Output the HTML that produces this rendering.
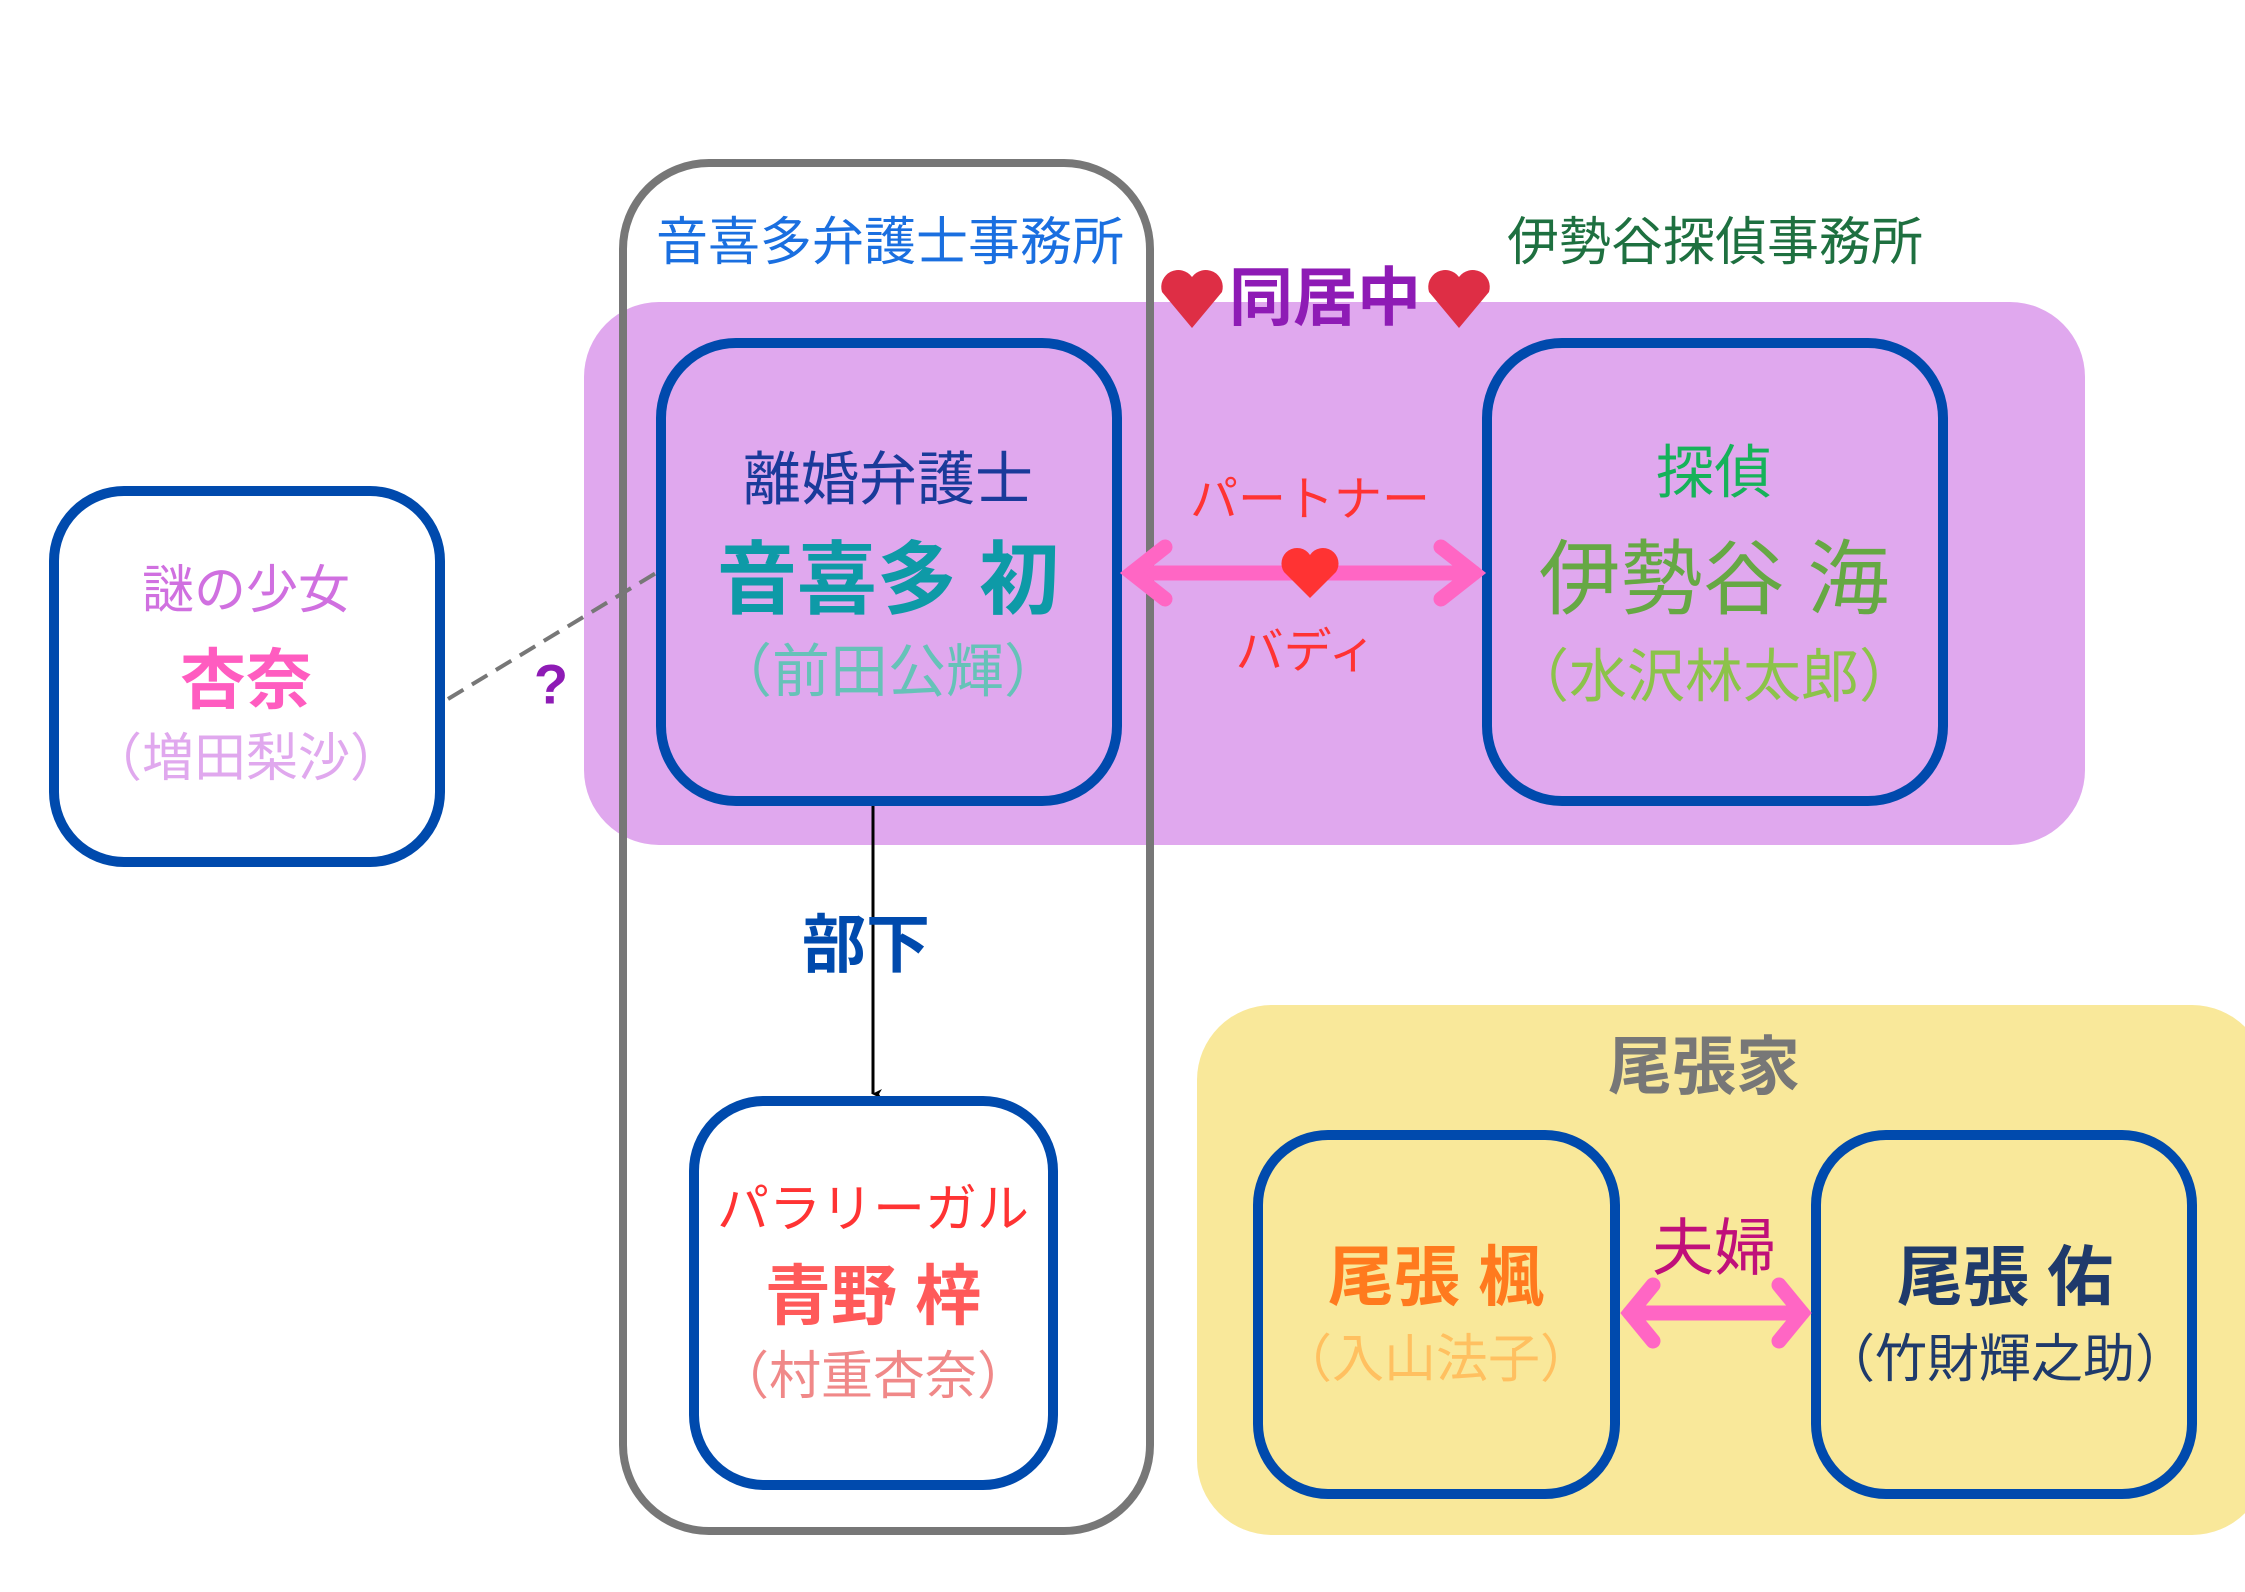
<!DOCTYPE html>
<html><head><meta charset="utf-8"><style>
html,body{margin:0;padding:0;background:#fff;}
svg text{font-family:"Liberation Sans","Noto Sans CJK JP",sans-serif;}
</style></head><body>
<svg width="2245" height="1587" viewBox="0 0 2245 1587" xmlns="http://www.w3.org/2000/svg">
<defs>
<marker id="ah" markerWidth="10" markerHeight="10" refX="5" refY="9" orient="auto" markerUnits="userSpaceOnUse">
<path d="M0,0 L5,10 L10,0 L5,3 Z" fill="#000"/>
</marker>
</defs>
<!-- backgrounds -->
<rect x="584" y="302" width="1501" height="543" rx="75" fill="#e0a8ee"/>
<rect x="1197" y="1005" width="1070" height="530" rx="75" fill="#f9e89a"/>
<!-- gray office box -->
<rect x="623" y="163" width="527" height="1368" rx="86" fill="none" stroke="#777" stroke-width="8"/>
<!-- dashed line -->
<line x1="448" y1="699" x2="656" y2="573" stroke="#777" stroke-width="4" stroke-dasharray="18,10"/>
<!-- vertical line -->
<line x1="873" y1="805" x2="873" y2="1094" stroke="#000" stroke-width="3" marker-end="url(#ah)"/>
<!-- nodes -->
<rect x="661" y="343" width="456" height="458" rx="75" fill="none" stroke="#004aad" stroke-width="10"/>
<rect x="1487" y="343" width="456" height="458" rx="75" fill="none" stroke="#004aad" stroke-width="10"/>
<rect x="54" y="491" width="386" height="371" rx="70" fill="#fff" stroke="#004aad" stroke-width="10"/>
<rect x="694" y="1101" width="359" height="384" rx="70" fill="#fff" stroke="#004aad" stroke-width="10"/>
<rect x="1258" y="1135" width="357" height="359" rx="70" fill="none" stroke="#004aad" stroke-width="10"/>
<rect x="1816" y="1135" width="376" height="359" rx="70" fill="none" stroke="#004aad" stroke-width="10"/>
<!-- partner arrow -->
<g stroke="#ff66c4" stroke-width="15" stroke-linecap="round" fill="none">
<line x1="1132" y1="573" x2="1474" y2="573"/>
<polyline points="1165,547 1132,573 1165,599"/>
<polyline points="1441,547 1474,573 1441,599"/>
</g>
<path d="M1310,598 L1284,572 A15,15 0 0 1 1310,555 A15,15 0 0 1 1336,572 Z" fill="#ff3333"/>
<!-- couple arrow -->
<g stroke="#ff66c4" stroke-width="15" stroke-linecap="round" fill="none">
<line x1="1630" y1="1313" x2="1802" y2="1313"/>
<polyline points="1653,1285 1630,1313 1653,1341"/>
<polyline points="1779,1285 1802,1313 1779,1341"/>
</g>
<!-- hearts for 同居中 -->
<path d="M1192,328 L1162,292 A17,17 0 0 1 1192,277 A17,17 0 0 1 1222,292 Z" fill="#de2e45"/>
<path d="M1459,328 L1429,292 A17,17 0 0 1 1459,277 A17,17 0 0 1 1489,292 Z" fill="#de2e45"/>
<g text-anchor="middle" dominant-baseline="central">
<text x="890" y="243" font-size="52" fill="#1a6fe0">音喜多弁護士事務所</text>
<text x="1715" y="243" font-size="52" fill="#1e7040">伊勢谷探偵事務所</text>
<text x="1325" y="298" font-size="64" font-weight="bold" fill="#8e1bb5">同居中</text>
<text x="888" y="480" font-size="58" fill="#1a3a9a">離婚弁護士</text>
<text x="888" y="580" font-size="80" font-weight="bold" fill="#0e9aa7">音喜多 初</text>
<text x="888" y="672" font-size="58" fill="#66c2b8">（前田公輝）</text>
<text x="1714" y="473" font-size="58" fill="#16b25a">探偵</text>
<text x="1714" y="580" font-size="82" fill="#66a844">伊勢谷 海</text>
<text x="1714" y="677" font-size="58" fill="#8cc34a">（水沢林太郎）</text>
<text x="1310" y="500" font-size="48" fill="#ff3333">パートナー</text>
<text x="1306" y="652" font-size="48" fill="#ff3333">バディ</text>
<text x="246" y="591" font-size="52" fill="#d070e0">謎の少女</text>
<text x="246" y="680" font-size="66" font-weight="bold" fill="#ff5cc0">杏奈</text>
<text x="246" y="759" font-size="52" fill="#e0a8ee">（増田梨沙）</text>
<text x="551" y="684" font-size="56" font-weight="bold" fill="#8e1bb5">?</text>
<text x="866" y="945" font-size="64" font-weight="bold" fill="#004aad">部下</text>
<text x="873" y="1210" font-size="52" fill="#ff3333">パラリーガル</text>
<text x="873" y="1296" font-size="66" font-weight="bold" fill="#ff5a5a">青野 梓</text>
<text x="873" y="1377" font-size="52" fill="#f08888">（村重杏奈）</text>
<text x="1704" y="1067" font-size="64" font-weight="bold" fill="#777">尾張家</text>
<text x="1714" y="1249" font-size="62" fill="#c0107a">夫婦</text>
<text x="1436" y="1277" font-size="66" font-weight="bold" fill="#ff7a1e">尾張 楓</text>
<text x="1436" y="1360" font-size="52" fill="#ffc060">（入山法子）</text>
<text x="2005" y="1277" font-size="66" font-weight="bold" fill="#1f3a6b">尾張 佑</text>
<text x="2005" y="1360" font-size="52" fill="#1f3a6b">（竹財輝之助）</text>
</g>
</svg>
</body></html>
